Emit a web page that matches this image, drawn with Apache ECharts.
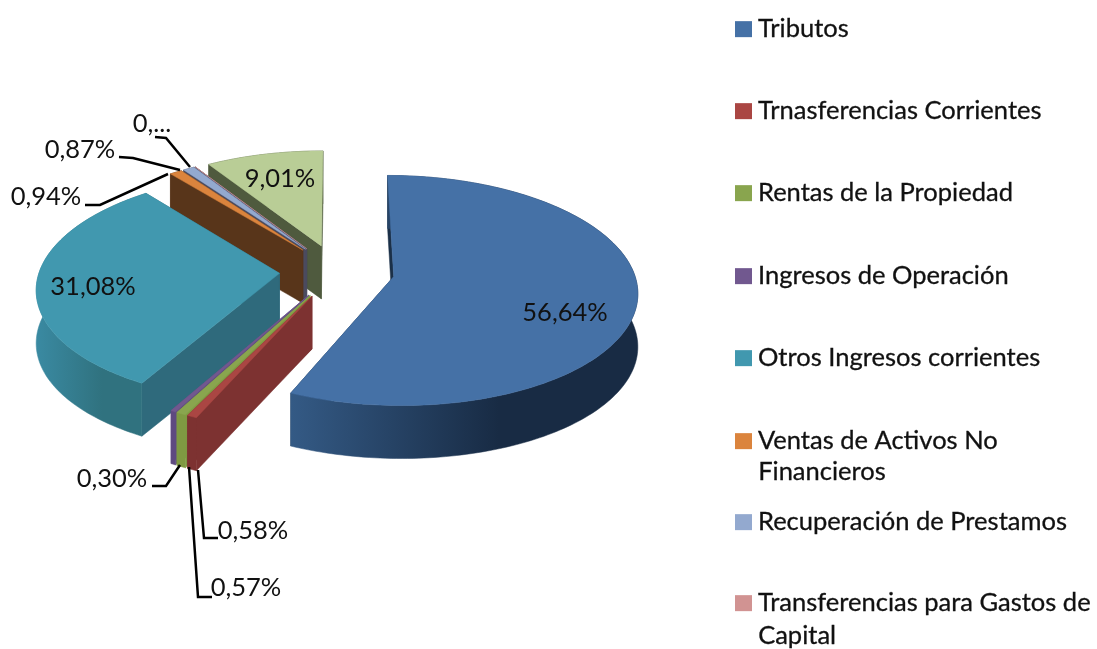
<!DOCTYPE html>
<html>
<head>
<meta charset="utf-8">
<title>Ingresos</title>
<script src="https://cdn.jsdelivr.net/npm/echarts@6/dist/echarts.min.js"></script>
<style>
  html, body { margin: 0; padding: 0; background: #fff; }
  #chart { width: 1097px; height: 649px; }
</style>
</head>
<body>
<div id="chart"></div>
<script>
// the ninth slice has no readable name, its legend entry is cut off in the picture
const categories = [
  "Tributos",
  "Trnasferencias Corrientes",
  "Rentas de la Propiedad",
  "Ingresos de Operación",
  "Otros Ingresos corrientes",
  "Ventas de Activos No\nFinancieros",
  "Recuperación de Prestamos",
  "Transferencias para Gastos de\nCapital",
  "Otros",
];
const values = [56.64, 0.58, 0.57, 0.3, 31.08, 0.94, 0.87, 0.01, 9.01];
const valueLabels = ["56,64%", "0,58%", "0,57%", "0,30%", "31,08%", "0,94%", "0,87%", "0,...", "9,01%"];

const topColors = ["#4571a6", "#aa4643", "#89a54e", "#71588f", "#4198af", "#db843d", "#93a9cf", "#d19392", "#b9cd96"];
const wallLeft = ["#345a85", "#7d3231", "#7f9a42", "#5e4a80", "#3a8aa2", "#58351a", "#4b4b5f", "#4b4b5f", "#4f5a3e"];
const wallRight = ["#182b44", "#7d3231", "#7f9a42", "#5e4a80", "#30727f", "#58351a", "#4b4b5f", "#4b4b5f", "#4f5a3e"];
const edgeColors = ["#1b3048", "#7d3231", "#7f9a42", "#5e4a80", "#2f6a7c", "#58351a", "#4b4b5f", "#4b4b5f", "#4f5a3e"];

// label centre [x, y], then the leader line points
const labelBoxes = [
  { at: [565, 313] },
  { at: [253, 531], line: [[218, 538], [204, 538], [198, 470]] },
  { at: [246, 588], line: [[212, 597], [198, 597], [189, 467]] },
  { at: [112, 479], line: [[152, 486], [166, 486], [180, 465]] },
  { at: [93, 287] },
  { at: [46, 197], line: [[85, 205], [100, 205], [168, 174]] },
  { at: [80, 150], line: [[119, 157], [133, 158], [180, 170]] },
  { at: [152, 124], line: [[155, 137], [166, 138], [190, 167]] },
  { at: [280, 179] },
];
const legendTops = [16, 98, 180, 263, 345, 428, 509, 590];
const wrappedLineTops = { 5: 459, 7: 623 };

const CX = 337, CY = 271, RX = 240, RY = 112;
const EXPLODE = 0.24, PERSP = 0.12, DEPTH = 53;
const FONT = '25.5px Lato, "Noto Sans", sans-serif';

const total = values.reduce((a, b) => a + b, 0);
const starts = [];
values.reduce((sum, v, i) => { starts[i] = sum; return sum + v; }, 0);

const toAngle = (v) => (v / total) * Math.PI * 2;

// ground plane to screen, y in world points to the back of the pie
function project(x, y, drop) {
  const s = 1 / (1 + PERSP * y);
  return [CX + RX * x * s, CY - RY * y * s + (drop ? DEPTH : 0)];
}

function apexOf(i) {
  const mid = toAngle(starts[i] + values[i] / 2);
  return [EXPLODE * Math.sin(mid), EXPLODE * Math.cos(mid)];
}

function sliceFaces(i) {
  const a0 = toAngle(starts[i]);
  const a1 = toAngle(starts[i] + values[i]);
  const apex = apexOf(i);
  const steps = Math.max(2, Math.ceil((a1 - a0) / 0.02));
  const rim = [];
  for (let k = 0; k <= steps; k++) {
    const a = a0 + ((a1 - a0) * k) / steps;
    rim.push([apex[0] + Math.sin(a), apex[1] + Math.cos(a)]);
  }
  const p = (w, drop) => project(w[0], w[1], drop);
  const wall = (w) => [p(apex), p(w), p(w, true), p(apex, true)];
  const polygon = (points, fill) => ({
    type: "polygon",
    shape: { points },
    style: { fill, stroke: fill, lineWidth: 0.5 },
  });
  const first = rim[0], last = rim[rim.length - 1];
  const walls = first[1] > last[1] ? [first, last] : [last, first];
  const outer = rim.map((w) => p(w)).concat(rim.slice().reverse().map((w) => p(w, true)));
  return [
    polygon(wall(walls[0]), edgeColors[i]),
    polygon(wall(walls[1]), edgeColors[i]),
    polygon(outer, {
      type: "linear", x: 0, y: 0, x2: 1, y2: 0,
      colorStops: [
        { offset: 0, color: wallLeft[i] },
        { offset: 0.6, color: wallRight[i] },
        { offset: 1, color: wallRight[i] },
      ],
    }),
    polygon([p(apex)].concat(rim.map((w) => p(w))), topColors[i]),
  ];
}

// back slices get painted first
const order = values.map((v, i) => i).sort((a, b) => apexOf(b)[1] - apexOf(a)[1]);

const sliceSeries = categories.map((name, i) => ({
  type: "custom",
  name: name,
  coordinateSystem: "none",
  z: 2 + order.indexOf(i),
  itemStyle: { color: topColors[i] },
  data: [values[i]],
  renderItem: () => ({ type: "group", children: sliceFaces(i) }),
}));

const labelSeries = {
  type: "custom",
  name: "etiquetas",
  coordinateSystem: "none",
  z: 30,
  silent: true,
  data: values,
  renderItem: (params) => {
    const box = labelBoxes[params.dataIndex];
    const children = [];
    if (box.line) {
      children.push({
        type: "polyline",
        shape: { points: box.line },
        style: { fill: "none", stroke: "#000", lineWidth: 2.5 },
      });
    }
    children.push({
      type: "text",
      style: {
        text: valueLabels[params.dataIndex],
        x: box.at[0], y: box.at[1],
        font: FONT, fill: "#111",
        align: "center", verticalAlign: "middle",
      },
    });
    return { type: "group", children };
  },
};

// one legend per entry, the spacing of the original is not regular around wrapped names
const legends = legendTops.map((top, i) => ({
  left: 735,
  top: top,
  data: [categories[i]],
  icon: "rect",
  itemWidth: 17,
  itemHeight: 16,
  itemGap: 0,
  padding: 0,
  selectedMode: false,
  formatter: (name) => name.split("\n")[0],
  textStyle: {
    fontFamily: "Lato", fontSize: 25.5, color: "#111",
    textBorderColor: "#111", textBorderWidth: 0.3,
    padding: [0, 0, 0, 1],
  },
}));

const secondLines = categories
  .map((name, i) => ({ top: wrappedLineTops[i], rest: name.split("\n")[1] }))
  .filter((d) => d.rest)
  .map((d) => ({
    type: "text",
    left: 758,
    top: d.top,
    style: { text: d.rest, font: FONT, fill: "#111", stroke: "#111", lineWidth: 0.3 },
  }));

const chart = echarts.init(document.getElementById("chart"));
chart.setOption({
  animation: false,
  backgroundColor: "#fff",
  legend: legends,
  graphic: secondLines,
  series: sliceSeries.concat([labelSeries]),
});
</script>
</body>
</html>
